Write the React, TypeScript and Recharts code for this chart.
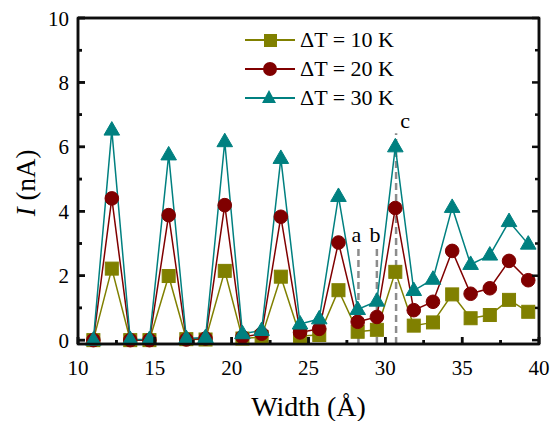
import React from 'react';
import { LineChart, Line, XAxis, YAxis, ReferenceLine } from 'recharts';

const widths = [11.0, 12.2, 13.4, 14.65, 15.9, 17.05, 18.3, 19.55, 20.7, 21.95, 23.2, 24.45, 25.7, 26.95, 28.2, 29.45, 30.65, 31.85, 33.1, 34.35, 35.55, 36.8, 38.05, 39.3];
const current10K = [0, 2.22, 0, 0, 1.99, 0.03, 0.02, 2.15, 0.05, 0.1, 1.97, 0.13, 0.16, 1.55, 0.26, 0.32, 2.12, 0.45, 0.55, 1.42, 0.68, 0.78, 1.25, 0.88];
const current20K = [0, 4.4, 0, 0, 3.88, 0.02, 0.05, 4.19, 0.1, 0.2, 3.83, 0.24, 0.35, 3.03, 0.57, 0.72, 4.1, 0.93, 1.19, 2.77, 1.44, 1.61, 2.46, 1.86];
const current30K = [0, 6.52, 0.02, 0.02, 5.75, 0.05, 0.08, 6.16, 0.2, 0.3, 5.64, 0.5, 0.66, 4.46, 0.95, 1.21, 6.0, 1.54, 1.89, 4.12, 2.35, 2.64, 3.68, 2.98];

const seriesLabels = ['ΔT = 10 K', 'ΔT = 20 K', 'ΔT = 30 K'];
const seriesColors = ['#808000', '#800000', '#008080'];
const seriesKeys = ['t10', 't20', 't30'];
const seriesShapes = ['square', 'circle', 'triangle'];

const xTicks = [10, 12.5, 15, 17.5, 20, 22.5, 25, 27.5, 30, 32.5, 35, 37.5, 40];
const yTicks = [0, 1, 2, 3, 4, 5, 6, 7, 8, 9, 10];

const markWidths = [28.25, 29.45, 30.7];
const markTops = [2.9, 2.9, 6.42];
const markLabels = ['a', 'b', 'c'];

const data = widths.map((w, i) => ({ w, t10: current10K[i], t20: current20K[i], t30: current30K[i] }));

const FONT = 'Liberation Serif';
const INK = '#000000';

const X_DOMAIN = [10, 40];
const Y_DOMAIN = [-0.12, 10];
const PLOT = { left: 78, top: 18, right: 539, bottom: 344 };
const px = (v: number) => PLOT.left + ((v - X_DOMAIN[0]) / (X_DOMAIN[1] - X_DOMAIN[0])) * (PLOT.right - PLOT.left);
const py = (v: number) => PLOT.bottom - ((v - Y_DOMAIN[0]) / (Y_DOMAIN[1] - Y_DOMAIN[0])) * (PLOT.bottom - PLOT.top);

function Marker({ shape, cx, cy, color }: any) {
  if (shape === 'square') return <rect x={cx - 6.5} y={cy - 6.5} width={13} height={13} fill={color} stroke={color} strokeWidth={1} />;
  if (shape === 'circle') return <circle cx={cx} cy={cy} r={6.8} fill={color} stroke={color} strokeWidth={1} />;
  return <polygon points={`${cx},${cy - 8.5} ${cx + 7.8},${cy + 5} ${cx - 7.8},${cy + 5}`} fill={color} stroke={color} strokeWidth={1} />;
}

const makeDot = (shape: string, color: string) => (props: any) => {
  const { cx, cy, index } = props;
  if (cx == null || cy == null) return <g key={index} />;
  return <g key={`${shape}-${index}`}><Marker shape={shape} cx={cx} cy={cy} color={color} /></g>;
};

const LeftTick = (props: any) => {
  const { x, y, payload } = props;
  const major = payload.value % 2 === 0;
  return (
    <g>
      <line x1={x} x2={x + (major ? 7 : 4)} y1={y} y2={y} stroke={INK} strokeWidth={2.5} />
      {major && (
        <text x={x - 9} y={y} dy="0.36em" textAnchor="end" fontSize={21} fontFamily={FONT} fill={INK}>
          {payload.value}
        </text>
      )}
    </g>
  );
};

const RightTick = (props: any) => {
  const { x, y, payload } = props;
  const major = payload.value % 2 === 0;
  return <line x1={x} x2={x - (major ? 7 : 4)} y1={y} y2={y} stroke={INK} strokeWidth={2.5} />;
};

const BottomTick = (props: any) => {
  const { x, y, payload } = props;
  const major = payload.value % 5 === 0;
  return (
    <g>
      <line x1={x} x2={x} y1={y} y2={y - (major ? 7 : 4)} stroke={INK} strokeWidth={2.5} />
      {major && (
        <text x={x} y={y + 23} dy="0.36em" textAnchor="middle" fontSize={21} fontFamily={FONT} fill={INK}>
          {payload.value}
        </text>
      )}
    </g>
  );
};

function LegendMarker({ shape, color }: any) {
  if (shape === 'triangle') {
    return (
      <div style={{ position: 'absolute', left: 25 - 7.8, top: 12 - 8.5, width: 0, height: 0, borderLeft: '7.8px solid transparent', borderRight: '7.8px solid transparent', borderBottom: `13.5px solid ${color}` }} />
    );
  }
  const size = shape === 'circle' ? 14 : 13;
  return (
    <div style={{ position: 'absolute', left: 25 - size / 2, top: 12 - size / 2, width: size, height: size, background: color, borderRadius: shape === 'circle' ? '50%' : 0 }} />
  );
}

function Frame() {
  return (
    <svg style={{ position: 'absolute', left: 0, top: 0, pointerEvents: 'none' }} width={550} height={421}>
      <rect x={PLOT.left} y={PLOT.top} width={PLOT.right - PLOT.left} height={PLOT.bottom - PLOT.top} fill="none" stroke="#0d0d0d" strokeWidth={2.5} />
      {yTicks.map((t) => {
        const len = t % 2 === 0 ? 7 : 4;
        const y = py(t);
        return (
          <g key={`y${t}`}>
            <line x1={PLOT.left} x2={PLOT.left + len} y1={y} y2={y} stroke="#0d0d0d" strokeWidth={2.5} />
            <line x1={PLOT.right} x2={PLOT.right - len} y1={y} y2={y} stroke="#0d0d0d" strokeWidth={2.5} />
          </g>
        );
      })}
      {xTicks.map((t) => {
        const len = t % 5 === 0 ? 7 : 4;
        const x = px(t);
        return <line key={`x${t}`} x1={x} x2={x} y1={PLOT.bottom} y2={PLOT.bottom - len} stroke="#0d0d0d" strokeWidth={2.5} />;
      })}
    </svg>
  );
}

export default function App() {
  return (
    <div style={{ position: 'fixed', left: 0, top: 0, width: 550, height: 421, background: '#fff' }}>
      <LineChart width={550} height={421} data={data} margin={{ top: 18, right: 10, bottom: 0, left: 18 }}>
        <XAxis
          dataKey="w"
          type="number"
          domain={X_DOMAIN}
          ticks={xTicks}
          interval={0}
          tickSize={0}
          tickMargin={0}
          stroke={INK}
          strokeWidth={2.5}
          tick={<BottomTick />}
          height={77}
          label={(p: any) => {
            const vb = p.viewBox;
            return (
              <text x={vb.x + vb.width / 2} y={416} textAnchor="middle" fontSize={28} fontFamily={FONT} fill={INK}>
                Width (Å)
              </text>
            );
          }}
        />
        <YAxis
          type="number"
          domain={Y_DOMAIN}
          ticks={yTicks}
          interval={0}
          tickSize={0}
          tickMargin={0}
          stroke={INK}
          strokeWidth={2.5}
          tick={<LeftTick />}
          width={60}
          label={() => (
            <text transform="translate(35,183) rotate(-90)" textAnchor="middle" fontSize={27} fontFamily={FONT} fill={INK}>
              <tspan fontStyle="italic">I</tspan> (nA)
            </text>
          )}
        />
        <YAxis
          yAxisId="right"
          orientation="right"
          type="number"
          domain={Y_DOMAIN}
          ticks={yTicks}
          interval={0}
          tickSize={0}
          tickMargin={0}
          stroke={INK}
          strokeWidth={2.5}
          tick={<RightTick />}
          width={1}
        />
        <ReferenceLine y={10} stroke={INK} strokeWidth={2.5} />
        {markWidths.map((mw, i) => (
          <ReferenceLine
            key={`m${i}`}
            segment={[{ x: mw, y: -0.12 }, { x: mw, y: markTops[i] }]}
            stroke="#8c8c8c"
            strokeWidth={2.5}
            strokeDasharray="7 4"
            ifOverflow="visible"
            label={{ value: markLabels[i], position: 'top', offset: 5, fontSize: 22, fontFamily: FONT, fill: INK, dx: i === markLabels.length - 1 ? 9 : -2 }}
          />
        ))}
        {seriesKeys.map((k, i) => (
          <Line
            key={k}
            dataKey={k}
            stroke={seriesColors[i]}
            strokeWidth={1.5}
            dot={makeDot(seriesShapes[i], seriesColors[i])}
            activeDot={false}
            isAnimationActive={false}
            type="linear"
          />
        ))}
      </LineChart>
      <Frame />
      {seriesLabels.map((lab, i) => {
        const y = 40 + i * 29;
        return (
          <div key={lab} style={{ position: 'absolute', left: 245, top: y - 12, width: 170, height: 24, pointerEvents: 'none' }}>
            <div style={{ position: 'absolute', left: 0, top: 11.25, width: 50, height: 1.5, background: seriesColors[i] }} />
            <LegendMarker shape={seriesShapes[i]} color={seriesColors[i]} />
            <div style={{ position: 'absolute', left: 55, top: 0, height: 24, lineHeight: '24px', fontSize: 22, fontFamily: "'Liberation Serif', serif", color: INK, whiteSpace: 'nowrap' }}>
              {lab}
            </div>
          </div>
        );
      })}
    </div>
  );
}
